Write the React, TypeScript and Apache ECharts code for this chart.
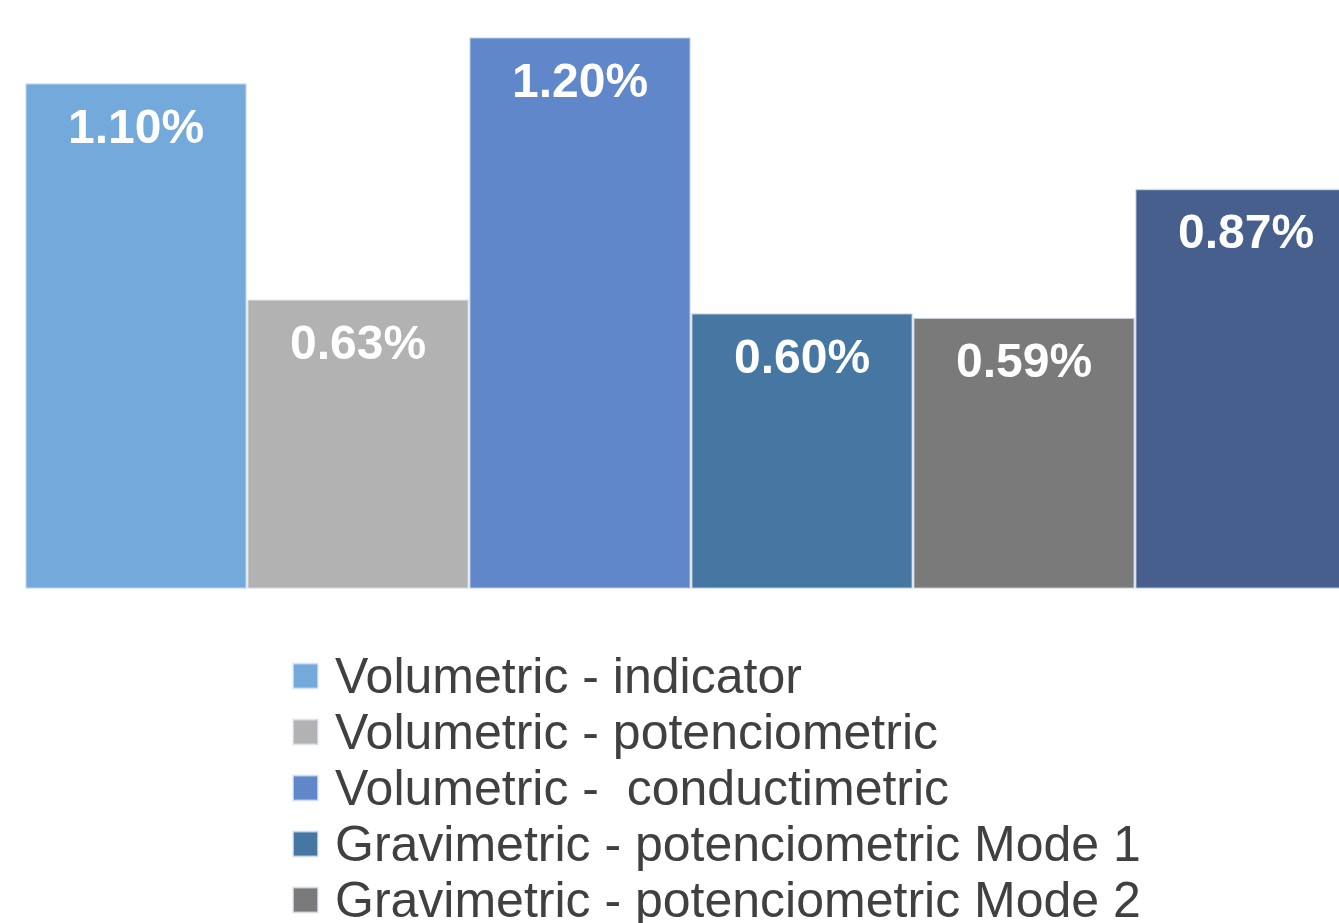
import React, { useEffect, useRef } from "react";
import * as echarts from "echarts";

const categories = [""];
const seriesNames = [
  "Volumetric - indicator",
  "Volumetric - potenciometric",
  "Volumetric -  conductimetric",
  "Gravimetric - potenciometric Mode 1",
  "Gravimetric - potenciometric Mode 2",
  "Gravimetric - conductimetric",
];
const seriesValues = [1.1, 0.63, 1.2, 0.6, 0.59, 0.87];
const seriesColors = ["#74a9db", "#b2b2b2", "#5f87ca", "#4677a3", "#7a7a7a", "#475f8d"];

export default function App() {
  const ref = useRef<HTMLDivElement>(null);
  useEffect(() => {
    if (!ref.current) return;
    const chart = echarts.init(ref.current, null, { renderer: "svg" });
    chart.setOption({
      animation: false,
      grid: {
        left: 25,
        top: 37,
        width: 1332,
        bottom: 334,
        containLabel: false,
        outerBoundsMode: "none",
      },
      xAxis: {
        type: "category",
        data: categories,
        show: false,
      },
      yAxis: {
        type: "value",
        min: 0,
        max: 1.2,
        show: false,
        splitLine: { show: false },
      },
      legend: {
        orient: "vertical",
        left: 287,
        top: 643,
        height: 600,
        itemWidth: 25,
        itemHeight: 25,
        itemGap: 0,
        icon: "rect",
        textStyle: {
          fontFamily: "Liberation Sans, Arial, sans-serif",
          fontSize: 50,
          color: "#404040",
          lineHeight: 56,
          padding: [0, 0, 0, 12],
        },
        data: seriesNames,
      },
      series: seriesNames.map((name, i) => ({
        name,
        type: "bar",
        barGap: "0%",
        barCategoryGap: "0%",
        data: [seriesValues[i]],
        itemStyle: {
          color: seriesColors[i],
          borderColor: "rgba(225,232,245,0.7)",
          borderWidth: 1.5,
        },
        label: {
          show: true,
          position: "insideTop",
          distance: 19,
          formatter: (p: any) => p.value.toFixed(2) + "%",
          color: "#ffffff",
          fontWeight: "bold",
          fontSize: 48,
          fontFamily: "Liberation Sans, Arial, sans-serif",
        },
      })),
    });
    return () => chart.dispose();
  }, []);
  return (
    <div
      ref={ref}
      style={{ position: "fixed", left: 0, top: 0, width: 1339, height: 923 }}
    />
  );
}
